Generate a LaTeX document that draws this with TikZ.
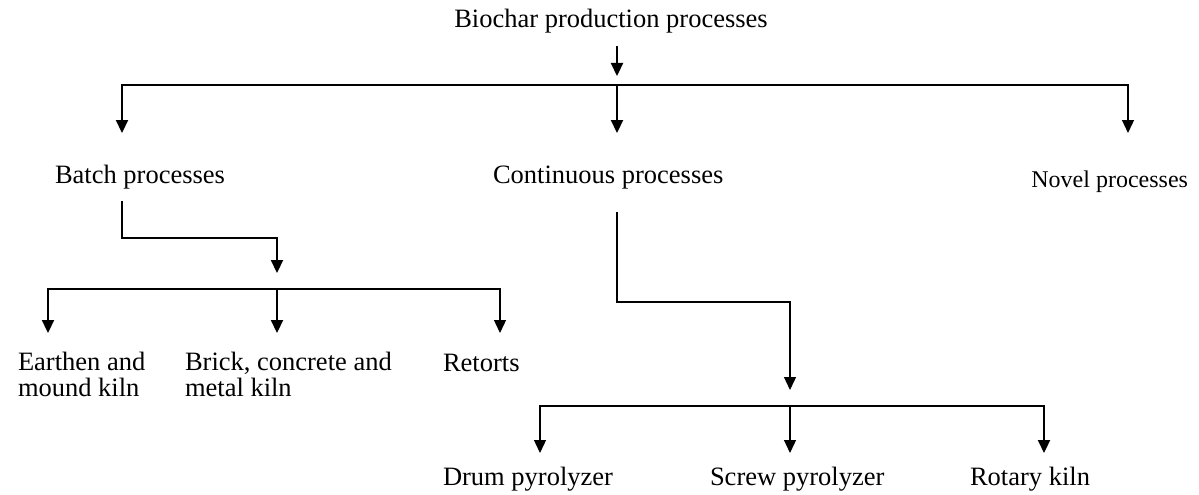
\documentclass[tikz,border=0pt]{standalone}
\usepackage{fontspec}
\setmainfont{Liberation Serif}
\usetikzlibrary{arrows.meta}
\begin{document}
\begin{tikzpicture}[x=1pt,y=-1pt,
  lbl/.style={inner sep=0pt,outer sep=0pt,font=\fontsize{26.5}{26}\selectfont},
  smalllbl/.style={inner sep=0pt,outer sep=0pt,font=\fontsize{24}{24}\selectfont},
  thickln/.style={line width=2.2pt,line cap=rect},
  thinln/.style={line width=1.3pt,line cap=rect},
  arr/.style={-{Triangle[width=12pt,length=13pt]}}]
\useasboundingbox (0,0) rectangle (1199,495);

% labels
\node[lbl,anchor=base] (root) at (611,28) {Biochar production processes};
\node[lbl,anchor=base west] (batch) at (55,183) {Batch processes};
\node[lbl,anchor=base west] (cont) at (493,183) {Continuous processes};
\node[smalllbl,anchor=base east] (novel) at (1188,187) {Novel processes};
\node[lbl,anchor=north west,align=left] (earth) at (18,352) {Earthen and\\mound kiln};
\node[lbl,anchor=north west,align=left] (brick) at (185,352) {Brick, concrete and\\metal kiln};
\node[lbl,anchor=base west] (retort) at (443,371) {Retorts};
\node[lbl,anchor=base west] (drum) at (443,485) {Drum pyrolyzer};
\node[lbl,anchor=base west] (screw) at (710,485) {Screw pyrolyzer};
\node[lbl,anchor=base west] (rotary) at (970,485) {Rotary kiln};

% junction coordinates
\coordinate (r0) at (617,47);
\coordinate (r1) at (617,76);
\coordinate (bl) at (122,85);
\coordinate (bm) at (617,85);
\coordinate (br) at (1128,85);
\coordinate (tb) at (122,133);
\coordinate (tc) at (617,133);
\coordinate (tn) at (1128,133);

\coordinate (b0) at (122,202);
\coordinate (b1) at (122,238);
\coordinate (b2) at (277,238);
\coordinate (b3) at (277,273);
\coordinate (kl) at (48,289);
\coordinate (km) at (277,289);
\coordinate (kr) at (500,289);
\coordinate (te) at (48,333);
\coordinate (tbr) at (277,333);
\coordinate (tr) at (500,333);

\coordinate (c0) at (617,213);
\coordinate (c1) at (617,302);
\coordinate (c2) at (790,302);
\coordinate (c3) at (790,390);
\coordinate (pl) at (540,406);
\coordinate (pm) at (790,406);
\coordinate (pr) at (1044,406);
\coordinate (td) at (540,453);
\coordinate (ts) at (790,453);
\coordinate (tk) at (1044,453);

% top level
\draw[thickln,arr] (r0) -- (r1);
\draw[thinln] (bl) -- (br);
\draw[thickln,arr] (bl) -- (tb);
\draw[thickln,arr] (bm) -- (tc);
\draw[thinln,arr] (br) -- (tn);

% batch branch
\draw[thickln] (b0) -- (b1) -- (b2);
\draw[thickln,arr] (b2) -- (b3);
\draw[thickln] (kl) -- (kr);
\draw[thickln,arr] (kl) -- (te);
\draw[thickln,arr] (km) -- (tbr);
\draw[thinln,arr] (kr) -- (tr);

% continuous branch
\draw[thickln] (c0) -- (c1);
\draw[thinln] (c1) -- (c2);
\draw[thinln,arr] (c2) -- (c3);
\draw[thinln] (pl) -- (pr);
\draw[thinln,arr] (pl) -- (td);
\draw[thinln,arr] (pm) -- (ts);
\draw[thickln,arr] (pr) -- (tk);
\end{tikzpicture}
\end{document}
